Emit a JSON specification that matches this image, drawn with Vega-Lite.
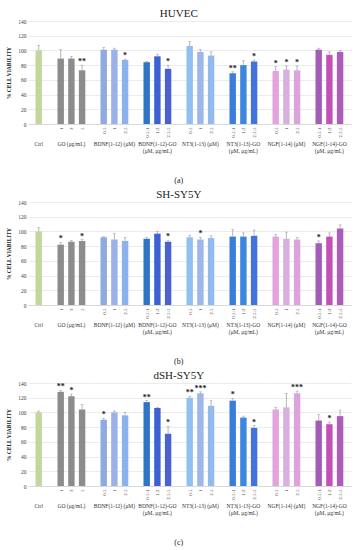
{
 "$schema": "https://vega.github.io/schema/vega-lite/v6.json",
 "padding": {"left": 6, "top": 8, "right": 4, "bottom": 2},
 "background": "white",
 "datasets": {
  "huvec": [
   {"g":"Ctrl","s":"","k":"C","v":100,"t":107},
   {"g":"GO (μg/mL)","s":"1","k":"GO1","v":89,"t":101},
   {"g":"GO (μg/mL)","s":"3","k":"GO2","v":89,"t":92},
   {"g":"GO (μg/mL)","s":"5","k":"GO3","v":73,"t":80,"sig":"**"},
   {"g":"BDNF(1-12) (μM)","s":"0.5","k":"B1","v":101,"t":104},
   {"g":"BDNF(1-12) (μM)","s":"1","k":"B2","v":101,"t":103},
   {"g":"BDNF(1-12) (μM)","s":"2.5","k":"B3","v":87,"t":88,"sig":"*"},
   {"g":"BDNF(1-12)-GO|(μM, μg/mL)","s":"0.5:1","k":"BG1","v":84,"t":85},
   {"g":"BDNF(1-12)-GO|(μM, μg/mL)","s":"1:2","k":"BG2","v":92,"t":95},
   {"g":"BDNF(1-12)-GO|(μM, μg/mL)","s":"2.5:5","k":"BG3","v":75,"t":80,"sig":"*"},
   {"g":"NT3(1-13) (μM)","s":"0.5","k":"N1","v":106,"t":112},
   {"g":"NT3(1-13) (μM)","s":"1","k":"N2","v":98,"t":101},
   {"g":"NT3(1-13) (μM)","s":"2.5","k":"N3","v":93,"t":98},
   {"g":"NT3(1-13)-GO|(μM, μg/mL)","s":"0.5:1","k":"NG1","v":69,"t":71,"sig":"**"},
   {"g":"NT3(1-13)-GO|(μM, μg/mL)","s":"1:2","k":"NG2","v":80,"t":86},
   {"g":"NT3(1-13)-GO|(μM, μg/mL)","s":"2.5:5","k":"NG3","v":85,"t":87,"sig":"*"},
   {"g":"NGF(1-14) (μM)","s":"0.5","k":"F1","v":72,"t":78,"sig":"*"},
   {"g":"NGF(1-14) (μM)","s":"1","k":"F2","v":74,"t":79,"sig":"*"},
   {"g":"NGF(1-14) (μM)","s":"2.5","k":"F3","v":73,"t":79,"sig":"*"},
   {"g":"NGF(1-14)-GO|(μM, μg/mL)","s":"0.5:1","k":"FG1","v":101,"t":103},
   {"g":"NGF(1-14)-GO|(μM, μg/mL)","s":"1:2","k":"FG2","v":94,"t":98},
   {"g":"NGF(1-14)-GO|(μM, μg/mL)","s":"2.5:5","k":"FG3","v":98,"t":100}
  ],
  "sh": [
   {"g":"Ctrl","s":"","k":"C","v":100,"t":105},
   {"g":"GO (μg/mL)","s":"1","k":"GO1","v":82,"t":85,"sig":"*"},
   {"g":"GO (μg/mL)","s":"3","k":"GO2","v":86,"t":88},
   {"g":"GO (μg/mL)","s":"5","k":"GO3","v":87,"t":89,"sig":"*"},
   {"g":"BDNF(1-12) (μM)","s":"0.5","k":"B1","v":92,"t":93},
   {"g":"BDNF(1-12) (μM)","s":"1","k":"B2","v":89,"t":97},
   {"g":"BDNF(1-12) (μM)","s":"2.5","k":"B3","v":87,"t":92},
   {"g":"BDNF(1-12)-GO|(μM, μg/mL)","s":"0.5:1","k":"BG1","v":90,"t":92},
   {"g":"BDNF(1-12)-GO|(μM, μg/mL)","s":"1:2","k":"BG2","v":97,"t":100},
   {"g":"BDNF(1-12)-GO|(μM, μg/mL)","s":"2.5:5","k":"BG3","v":86,"t":88,"sig":"*"},
   {"g":"NT3(1-13) (μM)","s":"0.5","k":"N1","v":92,"t":95},
   {"g":"NT3(1-13) (μM)","s":"1","k":"N2","v":89,"t":92,"sig":"*"},
   {"g":"NT3(1-13) (μM)","s":"2.5","k":"N3","v":91,"t":94},
   {"g":"NT3(1-13)-GO|(μM, μg/mL)","s":"0.5:1","k":"NG1","v":93,"t":103},
   {"g":"NT3(1-13)-GO|(μM, μg/mL)","s":"1:2","k":"NG2","v":93,"t":98},
   {"g":"NT3(1-13)-GO|(μM, μg/mL)","s":"2.5:5","k":"NG3","v":94,"t":102},
   {"g":"NGF(1-14) (μM)","s":"0.5","k":"F1","v":93,"t":96},
   {"g":"NGF(1-14) (μM)","s":"1","k":"F2","v":90,"t":99},
   {"g":"NGF(1-14) (μM)","s":"2.5","k":"F3","v":89,"t":92},
   {"g":"NGF(1-14)-GO|(μM, μg/mL)","s":"0.5:1","k":"FG1","v":84,"t":87,"sig":"*"},
   {"g":"NGF(1-14)-GO|(μM, μg/mL)","s":"1:2","k":"FG2","v":93,"t":98},
   {"g":"NGF(1-14)-GO|(μM, μg/mL)","s":"2.5:5","k":"FG3","v":104,"t":109}
  ],
  "dsh": [
   {"g":"Ctrl","s":"","k":"C","v":100,"t":102},
   {"g":"GO (μg/mL)","s":"1","k":"GO1","v":128,"t":130,"sig":"**"},
   {"g":"GO (μg/mL)","s":"3","k":"GO2","v":122,"t":125,"sig":"*"},
   {"g":"GO (μg/mL)","s":"5","k":"GO3","v":104,"t":111},
   {"g":"BDNF(1-12) (μM)","s":"0.5","k":"B1","v":90,"t":92,"sig":"*"},
   {"g":"BDNF(1-12) (μM)","s":"1","k":"B2","v":100,"t":102},
   {"g":"BDNF(1-12) (μM)","s":"2.5","k":"B3","v":96,"t":100},
   {"g":"BDNF(1-12)-GO|(μM, μg/mL)","s":"0.5:1","k":"BG1","v":114,"t":116,"sig":"**"},
   {"g":"BDNF(1-12)-GO|(μM, μg/mL)","s":"1:2","k":"BG2","v":106,"t":107},
   {"g":"BDNF(1-12)-GO|(μM, μg/mL)","s":"2.5:5","k":"BG3","v":71,"t":81,"sig":"*"},
   {"g":"NT3(1-13) (μM)","s":"0.5","k":"N1","v":120,"t":122,"sig":"**"},
   {"g":"NT3(1-13) (μM)","s":"1","k":"N2","v":126,"t":128,"sig":"***"},
   {"g":"NT3(1-13) (μM)","s":"2.5","k":"N3","v":109,"t":116},
   {"g":"NT3(1-13)-GO|(μM, μg/mL)","s":"0.5:1","k":"NG1","v":116,"t":119,"sig":"*"},
   {"g":"NT3(1-13)-GO|(μM, μg/mL)","s":"1:2","k":"NG2","v":93,"t":95},
   {"g":"NT3(1-13)-GO|(μM, μg/mL)","s":"2.5:5","k":"NG3","v":79,"t":82,"sig":"*"},
   {"g":"NGF(1-14) (μM)","s":"0.5","k":"F1","v":104,"t":107},
   {"g":"NGF(1-14) (μM)","s":"1","k":"F2","v":107,"t":126},
   {"g":"NGF(1-14) (μM)","s":"2.5","k":"F3","v":126,"t":129,"sig":"***"},
   {"g":"NGF(1-14)-GO|(μM, μg/mL)","s":"0.5:1","k":"FG1","v":89,"t":97},
   {"g":"NGF(1-14)-GO|(μM, μg/mL)","s":"1:2","k":"FG2","v":84,"t":87,"sig":"*"},
   {"g":"NGF(1-14)-GO|(μM, μg/mL)","s":"2.5:5","k":"FG3","v":95,"t":103}
  ]
 },
 "spacing": 4,
 "vconcat": [
  {
   "title": {"text": "(a)", "orient": "bottom", "fontSize": 8, "fontWeight": "normal", "offset": 22, "anchor": "middle"},
   "vconcat": [{
    "title": {"text": "HUVEC", "fontSize": 11, "fontWeight": "normal", "offset": 0, "anchor": "middle"},
    "data": {"name": "huvec"},
    "facet": {"column": {"field": "g", "title": null, "sort": ["Ctrl","GO (μg/mL)","BDNF(1-12) (μM)","BDNF(1-12)-GO|(μM, μg/mL)","NT3(1-13) (μM)","NT3(1-13)-GO|(μM, μg/mL)","NGF(1-14) (μM)","NGF(1-14)-GO|(μM, μg/mL)"],
      "header": {"labelOrient": "bottom", "labelFontSize": 5.5, "labelFont": "Liberation Serif", "labelColor": "#333333", "labelPadding": 4, "labelLineHeight": 7, "labelBaseline": "top", "labelExpr": "split(datum.value, '|')"}}},
    "spacing": 0,
    "resolve": {"scale": {"x": "independent"}},
    "spec": {
     "width": {"step": 10.7}, "height": 103,
     "encoding": {"x": {"field": "s", "type": "nominal", "sort": null, "title": null, "scale": {"paddingInner": 0.4, "paddingOuter": 0.7},
        "axis": {"labelAngle": 270, "labelFontSize": 5, "ticks": false, "labelPadding": 3, "domainColor": "#d9d9d9", "labelColor": "#404040"}}},
     "layer": [
      {"mark": {"type": "bar"}, "encoding": {
        "y": {"field": "v", "type": "quantitative", "title": "% CELL VIABILITY", "scale": {"domain": [0, 140]}, "axis": {"values": [0,20,40,60,80,100,120,140], "labelOverlap": false, "grid": true}},
        "color": {"field": "k", "type": "nominal", "legend": null, "scale": {"domain": ["C","GO1","GO2","GO3","B1","B2","B3","BG1","BG2","BG3","N1","N2","N3","NG1","NG2","NG3","F1","F2","F3","FG1","FG2","FG3"], "range": ["#c3d69b","#8c8c8c","#8c8c8c","#8c8c8c","#8eaadf","#9ab2e8","#8db1ea","#2e75c6","#3d62cf","#4a62cf","#8fc0f0","#9eb6ea","#91bbee","#3a7ddc","#3c86e0","#4272dc","#e3a3dc","#d7b0df","#dba5dc","#a35db8","#c451b8","#ad5cbc"]}}}},
      {"mark": {"type": "rule", "color": "#9a9a9a", "strokeWidth": 0.7}, "encoding": {"y": {"field": "v", "type": "quantitative", "title": "% CELL VIABILITY", "axis": {"values": [0,20,40,60,80,100,120,140], "labelOverlap": false, "grid": true}}, "y2": {"field": "t"}}},
      {"mark": {"type": "tick", "color": "#9a9a9a", "thickness": 0.7, "size": 3}, "encoding": {"y": {"field": "t", "type": "quantitative", "title": "% CELL VIABILITY", "axis": {"values": [0,20,40,60,80,100,120,140], "labelOverlap": false, "grid": true}}}},
      {"transform": [{"filter": "datum.sig"}], "mark": {"type": "text", "baseline": "bottom", "dy": 1, "fontSize": 8, "fontWeight": "bold", "color": "#222222"}, "encoding": {"y": {"field": "t", "type": "quantitative", "title": "% CELL VIABILITY", "axis": {"values": [0,20,40,60,80,100,120,140], "labelOverlap": false, "grid": true}}, "text": {"field": "sig"}}}
     ]
    }
   }]
  },
  {
   "title": {"text": "(b)", "orient": "bottom", "fontSize": 8, "fontWeight": "normal", "offset": 22, "anchor": "middle"},
   "vconcat": [{
    "title": {"text": "SH-SY5Y", "fontSize": 11, "fontWeight": "normal", "offset": 0, "anchor": "middle"},
    "data": {"name": "sh"},
    "facet": {"column": {"field": "g", "title": null, "sort": ["Ctrl","GO (μg/mL)","BDNF(1-12) (μM)","BDNF(1-12)-GO|(μM, μg/mL)","NT3(1-13) (μM)","NT3(1-13)-GO|(μM, μg/mL)","NGF(1-14) (μM)","NGF(1-14)-GO|(μM, μg/mL)"],
      "header": {"labelOrient": "bottom", "labelFontSize": 5.5, "labelFont": "Liberation Serif", "labelColor": "#333333", "labelPadding": 4, "labelLineHeight": 7, "labelBaseline": "top", "labelExpr": "split(datum.value, '|')"}}},
    "spacing": 0,
    "resolve": {"scale": {"x": "independent"}},
    "spec": {
     "width": {"step": 10.7}, "height": 103,
     "encoding": {"x": {"field": "s", "type": "nominal", "sort": null, "title": null, "scale": {"paddingInner": 0.4, "paddingOuter": 0.7},
        "axis": {"labelAngle": 270, "labelFontSize": 5, "ticks": false, "labelPadding": 3, "domainColor": "#d9d9d9", "labelColor": "#404040"}}},
     "layer": [
      {"mark": {"type": "bar"}, "encoding": {
        "y": {"field": "v", "type": "quantitative", "title": "% CELL VIABILITY", "scale": {"domain": [0, 140]}, "axis": {"values": [0,20,40,60,80,100,120,140], "labelOverlap": false, "grid": true}},
        "color": {"field": "k", "type": "nominal", "legend": null, "scale": {"domain": ["C","GO1","GO2","GO3","B1","B2","B3","BG1","BG2","BG3","N1","N2","N3","NG1","NG2","NG3","F1","F2","F3","FG1","FG2","FG3"], "range": ["#c3d69b","#8c8c8c","#8c8c8c","#8c8c8c","#8eaadf","#9ab2e8","#8db1ea","#2e75c6","#3d62cf","#4a62cf","#8fc0f0","#9eb6ea","#91bbee","#3a7ddc","#3c86e0","#4272dc","#e3a3dc","#d7b0df","#dba5dc","#a35db8","#c451b8","#ad5cbc"]}}}},
      {"mark": {"type": "rule", "color": "#9a9a9a", "strokeWidth": 0.7}, "encoding": {"y": {"field": "v", "type": "quantitative", "title": "% CELL VIABILITY", "axis": {"values": [0,20,40,60,80,100,120,140], "labelOverlap": false, "grid": true}}, "y2": {"field": "t"}}},
      {"mark": {"type": "tick", "color": "#9a9a9a", "thickness": 0.7, "size": 3}, "encoding": {"y": {"field": "t", "type": "quantitative", "title": "% CELL VIABILITY", "axis": {"values": [0,20,40,60,80,100,120,140], "labelOverlap": false, "grid": true}}}},
      {"transform": [{"filter": "datum.sig"}], "mark": {"type": "text", "baseline": "bottom", "dy": 1, "fontSize": 8, "fontWeight": "bold", "color": "#222222"}, "encoding": {"y": {"field": "t", "type": "quantitative", "title": "% CELL VIABILITY", "axis": {"values": [0,20,40,60,80,100,120,140], "labelOverlap": false, "grid": true}}, "text": {"field": "sig"}}}
     ]
    }
   }]
  },
  {
   "title": {"text": "(c)", "orient": "bottom", "fontSize": 8, "fontWeight": "normal", "offset": 22, "anchor": "middle"},
   "vconcat": [{
    "title": {"text": "dSH-SY5Y", "fontSize": 11, "fontWeight": "normal", "offset": 0, "anchor": "middle"},
    "data": {"name": "dsh"},
    "facet": {"column": {"field": "g", "title": null, "sort": ["Ctrl","GO (μg/mL)","BDNF(1-12) (μM)","BDNF(1-12)-GO|(μM, μg/mL)","NT3(1-13) (μM)","NT3(1-13)-GO|(μM, μg/mL)","NGF(1-14) (μM)","NGF(1-14)-GO|(μM, μg/mL)"],
      "header": {"labelOrient": "bottom", "labelFontSize": 5.5, "labelFont": "Liberation Serif", "labelColor": "#333333", "labelPadding": 4, "labelLineHeight": 7, "labelBaseline": "top", "labelExpr": "split(datum.value, '|')"}}},
    "spacing": 0,
    "resolve": {"scale": {"x": "independent"}},
    "spec": {
     "width": {"step": 10.7}, "height": 103,
     "encoding": {"x": {"field": "s", "type": "nominal", "sort": null, "title": null, "scale": {"paddingInner": 0.4, "paddingOuter": 0.7},
        "axis": {"labelAngle": 270, "labelFontSize": 5, "ticks": false, "labelPadding": 3, "domainColor": "#d9d9d9", "labelColor": "#404040"}}},
     "layer": [
      {"mark": {"type": "bar"}, "encoding": {
        "y": {"field": "v", "type": "quantitative", "title": "% CELL VIABILITY", "scale": {"domain": [0, 140]}, "axis": {"values": [0,20,40,60,80,100,120,140], "labelOverlap": false, "grid": true}},
        "color": {"field": "k", "type": "nominal", "legend": null, "scale": {"domain": ["C","GO1","GO2","GO3","B1","B2","B3","BG1","BG2","BG3","N1","N2","N3","NG1","NG2","NG3","F1","F2","F3","FG1","FG2","FG3"], "range": ["#c3d69b","#8c8c8c","#8c8c8c","#8c8c8c","#8eaadf","#9ab2e8","#8db1ea","#2e75c6","#3d62cf","#4a62cf","#8fc0f0","#9eb6ea","#91bbee","#3a7ddc","#3c86e0","#4272dc","#e3a3dc","#d7b0df","#dba5dc","#a35db8","#c451b8","#ad5cbc"]}}}},
      {"mark": {"type": "rule", "color": "#9a9a9a", "strokeWidth": 0.7}, "encoding": {"y": {"field": "v", "type": "quantitative", "title": "% CELL VIABILITY", "axis": {"values": [0,20,40,60,80,100,120,140], "labelOverlap": false, "grid": true}}, "y2": {"field": "t"}}},
      {"mark": {"type": "tick", "color": "#9a9a9a", "thickness": 0.7, "size": 3}, "encoding": {"y": {"field": "t", "type": "quantitative", "title": "% CELL VIABILITY", "axis": {"values": [0,20,40,60,80,100,120,140], "labelOverlap": false, "grid": true}}}},
      {"transform": [{"filter": "datum.sig"}], "mark": {"type": "text", "baseline": "bottom", "dy": 1, "fontSize": 8, "fontWeight": "bold", "color": "#222222"}, "encoding": {"y": {"field": "t", "type": "quantitative", "title": "% CELL VIABILITY", "axis": {"values": [0,20,40,60,80,100,120,140], "labelOverlap": false, "grid": true}}, "text": {"field": "sig"}}}
     ]
    }
   }]
  }
 ],
 "config": {
  "view": {"stroke": null},
  "font": "Liberation Serif",
  "title": {"font": "Liberation Serif", "color": "#222222", "anchor": "middle"},
  "axisY": {"labelFontSize": 5.5, "labelColor": "#404040", "ticks": false, "domain": false, "grid": true, "gridColor": "#dddddd", "gridWidth": 0.6, "labelPadding": 2, "titleFontSize": 5.5, "titleFontWeight": "bold", "titleColor": "#222222", "titlePadding": 6, "labelOverlap": false},
  "axisX": {"grid": false}
 }
}
